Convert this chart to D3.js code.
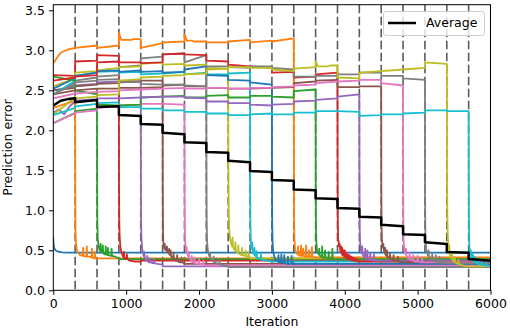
<!DOCTYPE html>
<html><head><meta charset="utf-8">
<script src="https://cdn.jsdelivr.net/npm/d3@7"></script>
<style>
html,body{margin:0;padding:0;background:#fff;}
svg{display:block;font-family:"DejaVu Sans",sans-serif;}
</style></head><body>
<svg id="chart" width="510" height="333"></svg>
<script>
// ---------- data ----------
const boundaries = [0,300,600,900,1200,1500,1800,2100,2400,2700,3000,3300,3600,3900,4200,4500,4800,5100,5400,5700,6000];
const dashIters = [300,600,900,1200,1500,1800,2100,2400,2700,3000,3300,3600,3900,4200,4500,4800,5100,5400,5700];
const xTicks = [0,1000,2000,3000,4000,5000,6000];
const yTicks = [0.0,0.5,1.0,1.5,2.0,2.5,3.0,3.5];
const colors = ["#1f77b4","#ff7f0e","#2ca02c","#d62728","#9467bd","#8c564b","#e377c2","#7f7f7f","#bcbd22","#17becf"];

// level of each series in each 300-iteration window before its drop (values spread evenly across the window)
const preS0 = [];
const preS1 = [[2.28,2.37]];
const preS2 = [[2.09,2.22],[2.24,2.27]];
const preS3 = [[2.69,2.68],[2.86,2.87],[2.94,2.93]];
const preS4 = [[2.50,2.55],[2.56,2.58],[2.60,2.61],[2.62,2.61]];
const preS5 = [[2.50,2.53],[2.55,2.57],[2.58,2.59],[2.60,2.61],[2.62,2.62]];
const preS6 = [[2.09,2.21],[2.22,2.25],[2.28,2.30],[2.31,2.32],[2.33,2.33],[2.33,2.32]];
const preS7 = [[2.45,2.60],[2.62,2.66],[2.67,2.69],[2.79,2.81],[2.90,2.92],[2.95,2.96],[2.85,2.94]];
const preS8 = [[2.55,2.65],[2.72,2.74],[2.75,2.78],[2.79,2.80],[2.83,2.85],[2.82,2.83],[2.81,2.82],[2.78,2.77]];
const preS9 = [[2.45,2.62],[2.68,2.72],[2.73,2.74],[2.72,2.73],[2.70,2.71],[2.71,2.73],[2.70,2.72],[2.70,2.70],[2.71,2.72]];
const preS10 = [[2.52,2.65],[2.68,2.72],[2.74,2.75],[2.73,2.75],[2.73,2.74],[2.72,2.73],[2.76,2.80],[2.69,2.68],[2.63,2.62],[2.60,2.57]];
const preS11 = [[2.84,2.97,3.01,3.03],[3.03,3.06],[3.03,3.06],[3.22,3.13,3.13,3.13,3.13,3.13,3.14,3.14,3.14,3.14],[3.03,3.09],[3.10,3.11],[3.20,3.12,3.12,3.12,3.11,3.11,3.11,3.11,3.11,3.11],[3.10,3.10],[3.11,3.13],[3.10,3.12],[3.11,3.15]];
const preS12 = [[2.67,2.62],[2.50,2.45],[2.32,2.31],[2.31,2.32],[2.41,2.42],[2.42,2.43],[2.41,2.41],[2.43,2.44],[2.41,2.41],[2.43,2.43],[2.42,2.41],[2.49,2.51]];
const preS13 = [[2.62,2.66],[2.67,2.69],[2.85,2.86],[2.85,2.85],[2.84,2.85],[2.95,2.96],[2.95,2.94],[2.87,2.86],[2.82,2.80],[2.80,2.78],[2.72,2.73],[2.66,2.67],[2.70,2.72]];
const preS14 = [[2.22,2.26,2.20,2.30,2.36],[2.37,2.39],[2.40,2.40],[2.40,2.41],[2.41,2.42],[2.42,2.42],[2.41,2.40],[2.36,2.36],[2.34,2.34],[2.32,2.31],[2.32,2.33],[2.36,2.37],[2.38,2.40],[2.42,2.45]];
const preS15 = [[2.45,2.50],[2.50,2.52],[2.52,2.52],[2.53,2.53],[2.53,2.54],[2.56,2.57],[2.55,2.55],[2.53,2.53],[2.52,2.52],[2.52,2.53],[2.53,2.54],[2.59,2.61],[2.62,2.63],[2.54,2.54],[2.55,2.55]];
const preS16 = [[2.40,2.46],[2.46,2.48],[2.48,2.49],[2.50,2.51],[2.51,2.52],[2.52,2.53],[2.52,2.52],[2.53,2.53],[2.52,2.52],[2.53,2.53],[2.54,2.55],[2.56,2.57],[2.59,2.61],[2.61,2.62],[2.63,2.63],[2.59,2.56]];
const preS17 = [[2.45,2.58],[2.60,2.62],[2.63,2.64],[2.60,2.61],[2.58,2.57],[2.57,2.57],[2.56,2.55],[2.80,2.80],[2.79,2.78],[2.80,2.80],[2.78,2.76],[2.67,2.67],[2.68,2.68],[2.70,2.70],[2.72,2.72],[2.68,2.68],[2.65,2.63]];
const preS18 = [[2.20,2.30,2.42],[2.40,2.42],[2.44,2.45],[2.62,2.64],[2.66,2.67],[2.68,2.69],[2.70,2.71],[2.76,2.77],[2.79,2.79],[2.78,2.78],[2.76,2.74],[2.77,2.79],[2.86,2.80,2.80,2.80,2.80,2.80,2.81,2.81,2.81,2.81],[2.66,2.65],[2.72,2.74],[2.74,2.76],[2.76,2.78],[2.85,2.83]];
const preS19 = [[2.19,2.28],[2.30,2.33],[2.34,2.35],[2.29,2.29],[2.27,2.27],[2.25,2.25],[2.23,2.23],[2.21,2.21],[2.19,2.19],[2.20,2.21],[2.20,2.20],[2.22,2.22],[2.24,2.24],[2.24,2.23],[2.18,2.19],[2.20,2.20],[2.21,2.22],[2.25,2.25],[2.24,2.24]];

// [iterations after the drop, value] during the training window
const postS0 = [[0,0.66],[4,0.57],[12,0.53],[30,0.50],[60,0.485],[120,0.475],[200,0.47],[300,0.47]];
const postS1 = [[0,2.37],[2,1.20],[5,0.75],[10,0.60],[20,0.52],[40,0.47],[70,0.44],[105,0.43],[110,0.53],[115,0.43],[155,0.42],[160,0.55],[165,0.42],[200,0.42],[225,0.41],[230,0.52],[235,0.41],[265,0.40],[270,0.48],[275,0.40],[300,0.40]];
const postS2 = [[0,2.27],[2,1.30],[5,0.85],[10,0.66],[20,0.56],[35,0.50],[45,0.49],[50,0.58],[55,0.48],[75,0.47],[80,0.56],[85,0.47],[100,0.45],[115,0.45],[120,0.55],[125,0.45],[145,0.44],[150,0.53],[155,0.44],[195,0.43],[200,0.52],[205,0.43],[250,0.42],[300,0.40]];
const postS3 = [[0,2.93],[2,1.40],[5,0.90],[10,0.68],[20,0.55],[35,0.47],[60,0.42],[65,0.41],[70,0.48],[75,0.41],[100,0.39],[105,0.39],[110,0.45],[115,0.39],[150,0.37],[220,0.36],[300,0.36]];
const postS4 = [[0,2.61],[2,1.30],[5,0.85],[10,0.65],[20,0.52],[40,0.43],[45,0.42],[50,0.48],[55,0.41],[70,0.38],[85,0.37],[90,0.43],[95,0.37],[110,0.35],[125,0.35],[130,0.40],[135,0.35],[160,0.34],[175,0.34],[180,0.39],[185,0.34],[230,0.33],[300,0.32]];
const postS5 = [[0,2.62],[2,1.30],[5,0.80],[10,0.60],[20,0.53],[25,0.52],[30,0.58],[35,0.51],[55,0.49],[60,0.55],[65,0.48],[85,0.46],[90,0.52],[95,0.45],[105,0.44],[110,0.50],[115,0.43],[130,0.41],[145,0.40],[150,0.47],[155,0.39],[180,0.37],[195,0.37],[200,0.44],[205,0.36],[240,0.35],[255,0.35],[260,0.41],[265,0.35],[300,0.34]];
const postS6 = [[0,2.32],[2,1.20],[5,0.80],[10,0.60],[20,0.50],[25,0.48],[30,0.54],[35,0.47],[55,0.42],[60,0.48],[65,0.41],[95,0.36],[100,0.43],[105,0.36],[135,0.34],[140,0.41],[145,0.34],[195,0.33],[200,0.39],[205,0.33],[255,0.32],[260,0.37],[265,0.32],[300,0.31]];
const postS7 = [[0,2.94],[2,1.40],[5,0.85],[10,0.62],[20,0.50],[40,0.43],[45,0.42],[50,0.47],[55,0.41],[70,0.38],[95,0.36],[100,0.42],[105,0.36],[160,0.33],[175,0.33],[180,0.38],[185,0.33],[230,0.31],[300,0.30]];
const postS8 = [[0,2.77],[3,1.60],[8,1.00],[15,0.75],[25,0.65],[45,0.57],[55,0.55],[60,0.66],[65,0.55],[80,0.51],[95,0.50],[100,0.60],[105,0.49],[130,0.47],[135,0.47],[140,0.56],[145,0.46],[185,0.44],[190,0.53],[195,0.44],[235,0.43],[240,0.50],[245,0.42],[275,0.42],[280,0.47],[285,0.41],[300,0.41]];
const postS9 = [[0,2.72],[2,1.30],[5,0.85],[10,0.63],[20,0.53],[25,0.52],[30,0.60],[35,0.50],[40,0.47],[55,0.45],[60,0.53],[65,0.44],[85,0.42],[90,0.49],[95,0.41],[110,0.40],[145,0.39],[150,0.45],[155,0.38],[230,0.37],[300,0.36]];
const postS10 = [[0,2.57],[2,1.20],[5,0.80],[10,0.58],[20,0.47],[40,0.40],[70,0.37],[85,0.36],[90,0.44],[95,0.36],[110,0.35],[125,0.35],[130,0.45],[135,0.35],[165,0.34],[170,0.44],[175,0.34],[215,0.33],[220,0.42],[225,0.33],[265,0.33],[270,0.43],[275,0.33],[300,0.33]];
const postS11 = [[0,3.15],[2,1.40],[5,0.85],[10,0.62],[20,0.50],[40,0.46],[55,0.45],[60,0.55],[65,0.45],[70,0.44],[95,0.43],[100,0.56],[105,0.43],[125,0.43],[130,0.52],[135,0.43],[160,0.42],[165,0.42],[170,0.56],[175,0.42],[205,0.42],[210,0.50],[215,0.42],[245,0.42],[250,0.54],[255,0.42],[300,0.41]];
const postS12 = [[0,2.51],[2,1.30],[5,0.80],[10,0.60],[20,0.50],[40,0.45],[45,0.45],[50,0.52],[55,0.44],[70,0.42],[85,0.42],[90,0.55],[95,0.41],[110,0.41],[125,0.41],[130,0.50],[135,0.41],[160,0.40],[175,0.40],[180,0.48],[185,0.40],[225,0.39],[230,0.52],[235,0.39],[300,0.39]];
const postS13 = [[0,2.72],[2,1.40],[5,0.85],[10,0.62],[15,0.62],[20,0.55],[30,0.58],[40,0.48],[50,0.55],[60,0.45],[65,0.53],[70,0.44],[85,0.50],[90,0.42],[100,0.50],[110,0.41],[120,0.47],[130,0.40],[140,0.45],[150,0.39],[165,0.44],[175,0.38],[190,0.42],[200,0.37],[215,0.41],[225,0.37],[240,0.40],[250,0.36],[270,0.39],[280,0.36],[300,0.36]];
const postS14 = [[0,2.45],[2,1.30],[5,0.80],[10,0.60],[20,0.50],[35,0.46],[40,0.55],[45,0.45],[70,0.41],[75,0.41],[80,0.52],[85,0.40],[105,0.39],[110,0.50],[115,0.39],[145,0.38],[150,0.47],[155,0.38],[195,0.37],[200,0.45],[205,0.37],[230,0.37],[300,0.37]];
const postS15 = [[0,2.55],[2,1.30],[5,0.80],[10,0.62],[20,0.55],[25,0.53],[30,0.58],[35,0.52],[40,0.48],[50,0.46],[55,0.53],[60,0.45],[70,0.43],[75,0.43],[80,0.50],[85,0.42],[110,0.40],[115,0.40],[120,0.46],[125,0.40],[160,0.38],[165,0.38],[170,0.44],[175,0.38],[225,0.36],[230,0.42],[235,0.36],[300,0.35]];
const postS16 = [[0,2.56],[2,1.30],[5,0.80],[10,0.58],[20,0.49],[35,0.45],[40,0.52],[45,0.44],[70,0.40],[85,0.39],[90,0.47],[95,0.39],[110,0.38],[135,0.37],[140,0.44],[145,0.37],[160,0.36],[195,0.36],[200,0.43],[205,0.36],[230,0.35],[255,0.35],[260,0.41],[265,0.35],[300,0.35]];
const postS17 = [[0,2.63],[2,1.30],[5,0.80],[10,0.60],[20,0.50],[40,0.44],[45,0.43],[50,0.50],[55,0.43],[70,0.40],[95,0.38],[100,0.46],[105,0.38],[110,0.37],[145,0.36],[150,0.44],[155,0.36],[160,0.36],[195,0.35],[200,0.42],[205,0.35],[230,0.35],[245,0.35],[250,0.41],[255,0.34],[300,0.34]];
const postS18 = [[0,2.83],[3,1.50],[8,0.90],[15,0.65],[25,0.52],[30,0.50],[35,0.56],[40,0.46],[45,0.44],[65,0.40],[70,0.46],[75,0.39],[80,0.38],[105,0.35],[110,0.42],[115,0.35],[130,0.34],[155,0.33],[160,0.38],[165,0.33],[190,0.32],[250,0.30],[300,0.30]];
const postS19 = [[0,2.24],[2,1.20],[5,0.75],[10,0.55],[20,0.46],[25,0.45],[30,0.50],[35,0.43],[40,0.40],[55,0.38],[60,0.45],[65,0.37],[70,0.36],[85,0.35],[90,0.42],[95,0.35],[110,0.34],[125,0.34],[130,0.40],[135,0.33],[160,0.32],[175,0.32],[180,0.38],[185,0.32],[230,0.31],[235,0.31],[240,0.36],[245,0.31],[300,0.30]];

// value held constant after each series' training window
const finalLevels = [0.47,0.40,0.39,0.37,0.30,0.33,0.31,0.29,0.40,0.36,0.33,0.41,0.39,0.36,0.37,0.35,0.35,0.34,0.30,null];

// average per window
const averageLevels = [[2.31,2.37,2.39,2.40],[2.35,2.38],[2.29,2.30],[2.19,2.18],[2.08,2.07],[1.97,1.95],[1.85,1.84],[1.73,1.72],[1.62,1.60],[1.49,1.48],[1.38,1.37],[1.26,1.25],[1.15,1.14],[1.03,1.02],[0.92,0.91],[0.82,0.80],[0.70,0.69],[0.60,0.58],[0.48,0.47],[0.39,0.37]];

const preAll = [preS0,preS1,preS2,preS3,preS4,preS5,preS6,preS7,preS8,preS9,preS10,preS11,preS12,preS13,preS14,preS15,preS16,preS17,preS18,preS19];
const postAll = [postS0,postS1,postS2,postS3,postS4,postS5,postS6,postS7,postS8,postS9,postS10,postS11,postS12,postS13,postS14,postS15,postS16,postS17,postS18,postS19];

// ---------- drawing ----------
const svg = d3.select("#chart");
const L = 53.3, R = 490.5, T = 4.7, B = 290.3;
const x = d3.scaleLinear().domain([0,6000]).range([L,R]);
const y = d3.scaleLinear().domain([0,3.57]).range([B,T]);
const FS = 12.5;

svg.append("defs").append("clipPath").attr("id","clip")
  .append("rect").attr("x",L).attr("y",T).attr("width",R-L).attr("height",B-T);

function windowPoints(windows){
  const pts=[];
  windows.forEach((vals,w)=>{
    const a=boundaries[w], b=boundaries[w+1], n=vals.length;
    vals.forEach((v,k)=>pts.push([a+(b-a)*k/(n-1), v]));
  });
  return pts;
}

const line = d3.line().x(d=>x(d[0])).y(d=>y(d[1]));
const plot = svg.append("g").attr("clip-path","url(#clip)");

// dashed vertical lines
plot.selectAll("line.dash").data(dashIters).join("line")
  .attr("class","dash")
  .attr("x1",d=>x(d)).attr("x2",d=>x(d))
  .attr("y1",T).attr("y2",B)
  .attr("stroke","#5a5a5a").attr("stroke-width",1.6)
  .attr("stroke-dasharray","8.5,3.5");

// series
preAll.forEach((pre,i)=>{
  const pts = windowPoints(pre);
  const d0 = boundaries[i];
  postAll[i].forEach(([o,v])=>pts.push([d0+o,v]));
  if(finalLevels[i]!==null){
    pts.push([d0+300, finalLevels[i]]);
    pts.push([6000, finalLevels[i]]);
  }
  plot.append("path").datum(pts)
    .attr("d",line).attr("fill","none")
    .attr("stroke",colors[i%10]).attr("stroke-width",1.8)
    .attr("stroke-linejoin","round").attr("stroke-linecap","butt");
});

// average
plot.append("path").datum(windowPoints(averageLevels))
  .attr("d",line).attr("fill","none")
  .attr("stroke","#000").attr("stroke-width",2.5)
  .attr("stroke-linejoin","round");

// axes
const xAxis = d3.axisBottom(x).tickValues(xTicks).tickFormat(d3.format("d"))
  .tickSizeInner(4.4).tickSizeOuter(0).tickPadding(4);
const yAxis = d3.axisLeft(y).tickValues(yTicks).tickFormat(d3.format(".1f"))
  .tickSizeInner(4.4).tickSizeOuter(0).tickPadding(4);

const gx = svg.append("g").attr("transform",`translate(0,${B})`).call(xAxis);
const gy = svg.append("g").attr("transform",`translate(${L},0)`).call(yAxis);
[gx,gy].forEach(g=>{
  g.select(".domain").remove();
  g.selectAll(".tick line").attr("stroke","#000").attr("stroke-width",1);
  g.selectAll(".tick text").attr("fill","#000")
    .style("font-family","'DejaVu Sans',sans-serif").style("font-size",FS+"px");
});

// frame
svg.append("rect").attr("x",L).attr("y",T).attr("width",R-L).attr("height",B-T)
  .attr("fill","none").attr("stroke","#000").attr("stroke-width",1);

// axis labels
svg.append("text").attr("x",(L+R)/2).attr("y",326).attr("text-anchor","middle")
  .style("font-size",FS+"px").text("Iteration");
svg.append("text").attr("transform",`translate(12.4,${(T+B)/2}) rotate(-90)`)
  .attr("text-anchor","middle").style("font-size",FS+"px").text("Prediction error");

// legend
const lg = svg.append("g");
lg.append("rect").attr("x",383.5).attr("y",11.5).attr("width",101).attr("height",24)
  .attr("rx",2.5).attr("fill","#fff").attr("fill-opacity",0.8)
  .attr("stroke","#d0d0d0").attr("stroke-width",1);
lg.append("line").attr("x1",388).attr("x2",416).attr("y1",23).attr("y2",23)
  .attr("stroke","#000").attr("stroke-width",2.5);
lg.append("text").attr("x",426).attr("y",27.3).style("font-size",FS+"px").text("Average");
</script>
</body></html>
